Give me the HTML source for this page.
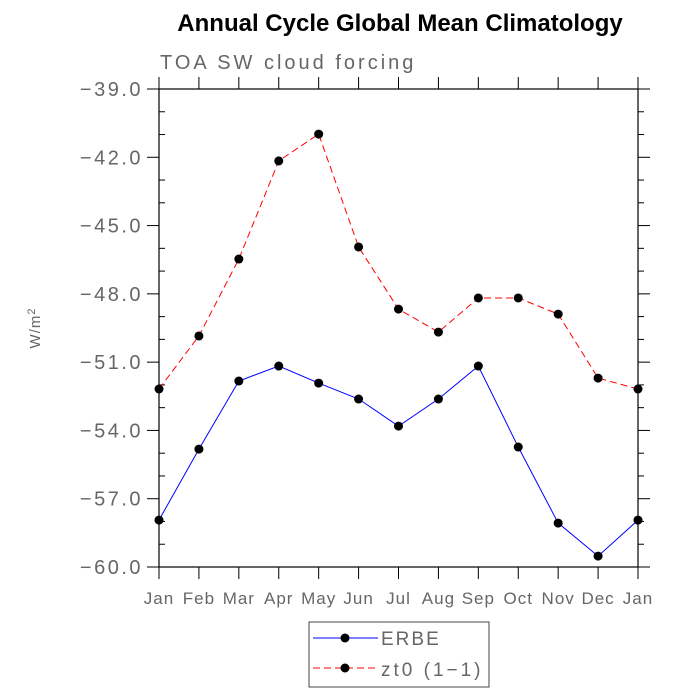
<!DOCTYPE html>
<html><head><meta charset="utf-8"><style>
body{margin:0;background:#fff;}
svg{display:block;font-family:"Liberation Sans",sans-serif;}
</style></head><body>
<svg id="chart" width="700" height="700">
<text x="400" y="31" text-anchor="middle" font-size="24" font-weight="bold">Annual Cycle Global Mean Climatology</text>
<text x="160" y="69" font-size="20" fill="#666" letter-spacing="3">TOA SW cloud forcing</text>
<text transform="translate(40,328) rotate(-90)" text-anchor="middle" font-size="15" fill="#666" letter-spacing="1">W/m<tspan dy="-5" font-size="11">2</tspan></text>
<g id="axes"></g>
<g id="series"></g>
<g>
<rect x="309" y="622" width="180" height="65" fill="#fff" stroke="#444"/>
<g>
<line x1="313" y1="638" x2="378" y2="638" stroke="#00f"/><circle cx="345" cy="638" r="4.5"/>
<text x="381" y="645" font-size="19" fill="#666" letter-spacing="2">ERBE</text></g>
<g>
<line x1="313" y1="668" x2="378" y2="668" stroke="#f00" stroke-dasharray="7,4"/><circle cx="345" cy="668" r="4.5"/>
<text x="381" y="676" font-size="19" fill="#666" letter-spacing="3">zt0 (1−1)</text></g>
</g>
</svg>
<script>
const months=["Jan","Feb","Mar","Apr","May","Jun","Jul","Aug","Sep","Oct","Nov","Dec","Jan"];
const erbe=[-57.94,-54.82,-51.83,-51.17,-51.92,-52.62,-53.81,-52.62,-51.17,-54.73,-58.07,-59.52,-57.94];
const zt0=[-52.18,-49.85,-46.47,-42.16,-40.98,-45.94,-48.67,-49.68,-48.18,-48.18,-48.89,-51.70,-52.18];
const yTicks=[-39,-42,-45,-48,-51,-54,-57,-60];
const L=159,R=638,T=89,B=567,ymin=-60,ymax=-39;
const xs=i=>L+(R-L)*i/(months.length-1);
const ys=v=>B-(v-ymin)/(ymax-ymin)*(B-T);
const NS="http://www.w3.org/2000/svg";
function mk(tag,attrs,parent){const e=document.createElementNS(NS,tag);for(const k in attrs)e.setAttribute(k,attrs[k]);parent.appendChild(e);return e;}
const ax=document.getElementById('axes');
const fr=mk('rect',{x:L,y:T,width:R-L,height:B-T,fill:'none',stroke:'#000','stroke-width':1.2},ax);


months.forEach((m,i)=>{
  const x=xs(i);
  mk('line',{x1:x,y1:B,x2:x,y2:B+12,stroke:'#000'},ax);
  mk('line',{x1:x,y1:T,x2:x,y2:T-12,stroke:'#000'},ax);
  const t=mk('text',{x:x,y:B+37,'text-anchor':'middle','font-size':17,fill:'#666','letter-spacing':1},ax);
  t.textContent=m;
  
  
});
for(let v=ymin;v<=ymax;v++){
  const y=ys(v);
  if(yTicks.includes(v)){
    mk('line',{x1:L-12,y1:y,x2:L,y2:y,stroke:'#000'},ax);
    mk('line',{x1:R,y1:y,x2:R+12,y2:y,stroke:'#000'},ax);
  }else{
    mk('line',{x1:L,y1:y,x2:L+6,y2:y,stroke:'#000'},ax);
    mk('line',{x1:R,y1:y,x2:R+6,y2:y,stroke:'#000'},ax);
  }
}
yTicks.forEach(v=>{
  const t=mk('text',{x:L-16,y:ys(v)+7,'text-anchor':'end','font-size':20,fill:'#666','letter-spacing':2.5},ax);
  t.textContent='−'+Math.abs(v).toFixed(1);
  
  
});
const sg=document.getElementById('series');
function draw(data,color,dash,name){
  const g=mk('g',{},sg);
  
  
  mk('polyline',{points:data.map((v,i)=>xs(i)+','+ys(v)).join(' '),fill:'none',stroke:color,'stroke-width':1,'stroke-dasharray':dash},g);
  data.forEach((v,i)=>{
    const c=mk('circle',{cx:xs(i),cy:ys(v),r:4.5,fill:'#000'},g);
    
    
  });
}
draw(zt0,'#f00','7,4','zt0-series');
draw(erbe,'#00f','none','erbe-series');
</script>
</body></html>
